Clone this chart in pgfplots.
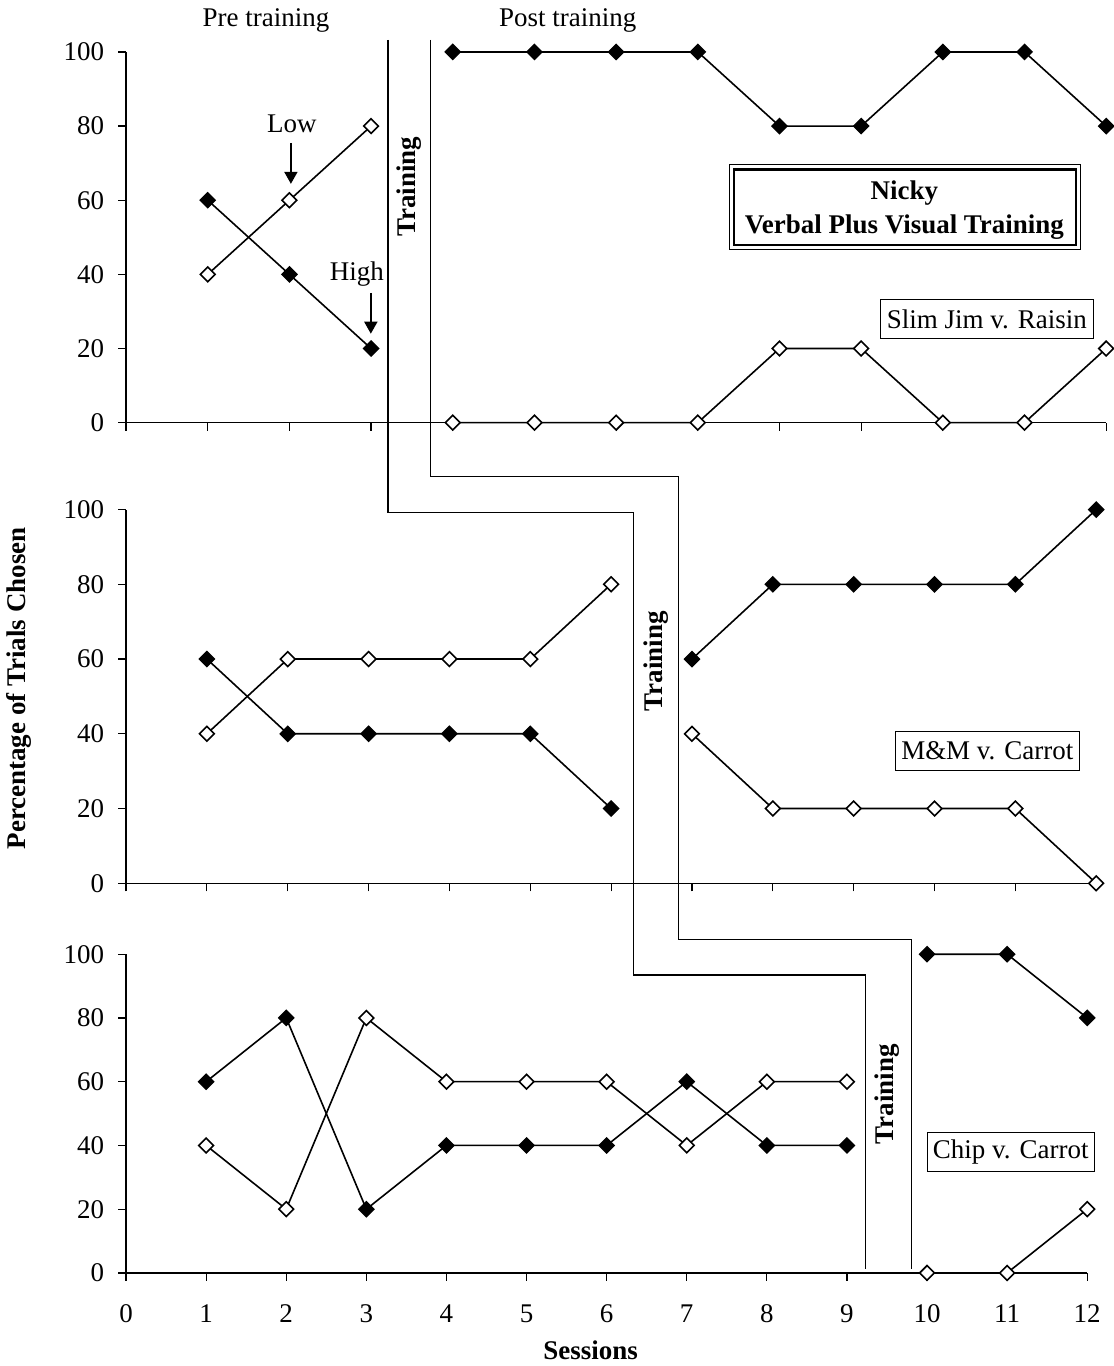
\documentclass[border=0pt]{standalone}
\usepackage{fontspec}
\setmainfont{Liberation Serif}
\usepackage{pgfplots}
\pgfplotsset{compat=1.18}
\usetikzlibrary{arrows.meta}

\newcommand{\fs}{\fontsize{13.5pt}{16pt}\selectfont}

\pgfplotsset{
  panel/.style={
    scale only axis, enlargelimits=false, clip=false,
    xmin=0, xmax=12, ymin=0, ymax=100,
    axis lines*=left, tick align=outside,
    xtick={0,...,12}, ytick={0,20,...,100},
    major tick length=4pt,
    axis line style={black, line width=0.6pt},
    tick style={black, line width=0.6pt},
    /pgf/number format/assume math mode=true,
    tick label style={font=\fs},
    yticklabel style={xshift=-3.5pt},
  },
  hi/.style={black, line width=0.8pt, mark=square*, mark size=2.7pt,
    mark options={rotate=45, fill=black, line width=0.6pt}},
  lo/.style={black, line width=0.8pt, mark=square*, mark size=2.6pt,
    mark options={rotate=45, fill=white, line width=0.8pt}},
}

\begin{document}
\begin{tikzpicture}
% page frame, 1 px = 0.5pt
\begin{scope}[x=0.5pt,y=-0.5pt]
  \path (0,0) rectangle (1110,1366);
\end{scope}

% ---- Slim Jim v. Raisin
\begin{axis}[panel, at={(62.5pt,-211.5pt)}, anchor=south west,
  width=490.5pt, height=185.5pt, xticklabels={}]
  \addplot[hi] coordinates {(1,60) (2,40) (3,20)};
  \addplot[lo] coordinates {(1,40) (2,60) (3,80)};
  \addplot[hi] coordinates {(4,100) (5,100) (6,100) (7,100) (8,80) (9,80) (10,100) (11,100) (12,80)};
  \addplot[lo] coordinates {(4,0) (5,0) (6,0) (7,0) (8,20) (9,20) (10,0) (11,0) (12,20)};
\end{axis}

% ---- M&M v. Carrot
\begin{axis}[panel, at={(62.5pt,-442pt)}, anchor=south west,
  width=485.5pt, height=187pt, xticklabels={}]
  \addplot[hi] coordinates {(1,60) (2,40) (3,40) (4,40) (5,40) (6,20)};
  \addplot[lo] coordinates {(1,40) (2,60) (3,60) (4,60) (5,60) (6,80)};
  \addplot[hi] coordinates {(7,60) (8,80) (9,80) (10,80) (11,80) (12,100)};
  \addplot[lo] coordinates {(7,40) (8,20) (9,20) (10,20) (11,20) (12,0)};
\end{axis}

% ---- Chip v. Carrot
\begin{axis}[panel, at={(62.5pt,-637pt)}, anchor=south west,
  width=481pt, height=159.5pt,
  xticklabel style={yshift=-8.5pt}]
  \addplot[hi] coordinates {(1,60) (2,80) (3,20) (4,40) (5,40) (6,40) (7,60) (8,40) (9,40)};
  \addplot[lo] coordinates {(1,40) (2,20) (3,80) (4,60) (5,60) (6,60) (7,40) (8,60) (9,60)};
  \addplot[hi] coordinates {(10,100) (11,100) (12,80)};
  \addplot[lo] coordinates {(10,0) (11,0) (12,20)};
\end{axis}

% ---- annotations in pixel units
\begin{scope}[x=0.5pt,y=-0.5pt, font=\fs]
  % phase change lines
  \draw[line width=0.7pt] (387,40) -- (387,513) -- (633,513) -- (633,976) -- (865,976) -- (865,1270);
  \draw[line width=0.7pt] (430,40) -- (430,477) -- (678,477) -- (678,940) -- (911,940) -- (911,1270);
  \node[rotate=90, font=\fs\bfseries] at (408,187) {Training};
  \node[rotate=90, font=\fs\bfseries] at (656,662) {Training};
  \node[rotate=90, font=\fs\bfseries] at (887,1095) {Training};

  \node at (265,20) {Pre training};
  \node at (567,20) {Post training};

  \node at (291,124) {Low};
  \draw[line width=0.9pt, -{Triangle[width=6.5pt,length=6pt]}] (290,143) -- (290,184);
  \node at (356,274) {High};
  \draw[line width=0.9pt, -{Triangle[width=6.5pt,length=6pt]}] (370,293) -- (370,334);

  % title box
  \draw[line width=0.6pt] (729,165) rectangle (1080,250);
  \draw[line width=1.2pt] (733.5,169.5) rectangle (1075.5,245.5);
  \node[font=\fs\bfseries] at (904,193) {Nicky};
  \node[font=\fs\bfseries] at (904,227) {Verbal Plus Visual Training};

  % condition labels
  \node[draw, line width=0.5pt, minimum width=106.5pt, minimum height=19.5pt, inner sep=0pt] at (986.5,319.5) {Slim Jim v. Raisin};
  \node[draw, line width=0.5pt, minimum width=92pt, minimum height=19.5pt, inner sep=0pt] at (987,751.5) {M\&M v. Carrot};
  \node[draw, line width=0.5pt, minimum width=83.5pt, minimum height=19.5pt, inner sep=0pt] at (1010.5,1152.5) {Chip v. Carrot};

  % axis titles
  \node[rotate=90, font=\fs\bfseries] at (18,689) {Percentage of Trials Chosen};
  \node[font=\fs\bfseries] at (590,1351) {Sessions};
\end{scope}
\end{tikzpicture}
\end{document}
